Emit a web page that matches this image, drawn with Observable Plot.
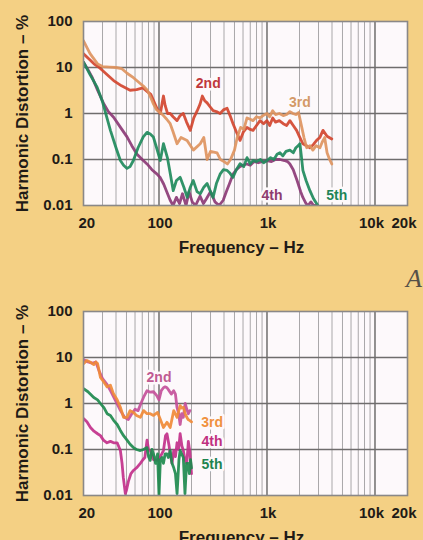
<!DOCTYPE html>
<html>
<head>
<meta charset="utf-8">
<script src="https://cdn.jsdelivr.net/npm/d3@7"></script>
<script src="https://cdn.jsdelivr.net/npm/@observablehq/plot@0.6"></script>
<style>
  html, body { margin: 0; padding: 0; }
  body { width: 423px; height: 540px; background: #f4d084; position: relative; overflow: hidden;
         font-family: "Liberation Sans", Arial, sans-serif; }
  #top { position: absolute; left: 0; top: 0; }
  #bottom { position: absolute; left: 0; top: 270px; }
  #fig { position: absolute; left: 406px; top: 266px; font-family: "Liberation Serif", "DejaVu Serif", serif;
         font-style: italic; font-size: 26px; line-height: 26px; color: #555049; }
</style>
</head>
<body>
<div id="top"></div>
<div id="bottom"></div>
<div id="fig">A</div>
<script>
// ---------- axis / tick data ----------
const xTickValues = [20, 100, 1000, 10000, 20000];
const xTickLabels = ["20", "100", "1k", "10k", "20k"];
const yTickValues = [0.01, 0.1, 1, 10, 100];
const yTickLabels = ["0.01", "0.1", "1", "10", "100"];
const xMajorGrid = [100, 1000, 10000];
const xMinorGrid = [30, 40, 50, 60, 70, 80, 90, 200, 300, 400, 500, 600, 700, 800, 900,
                    2000, 3000, 4000, 5000, 6000, 7000, 8000, 9000];
const yMajorGrid = [0.1, 1, 10];
const xTitle = "Frequency – Hz";
const yTitle = "Harmonic Distortion – %";
const harmonicNames = ["2nd", "3rd", "4th", "5th"];

// ---------- top panel series: [frequency Hz, distortion %] ----------
const top2nd = [[20,20],[22,16],[25,12],[28,10],[32,7.5],[38,5.2],[45,4],[54,3.2],[62,3.3],[71,3.6],[78,3],[84,2.6],[90,1.8],[97,1.2],[103,1],[107,1.7],[110,2.4],[114,1.5],[120,1],[127,1],[135,0.85],[147,0.7],[157,0.9],[168,1],[180,0.65],[195,0.43],[210,0.8],[226,1.15],[240,1.6],[252,2.4],[265,1.9],[279,1.7],[297,1.4],[317,1.15],[340,1.1],[368,1],[395,1.2],[427,1.3],[455,0.9],[485,0.6],[520,0.4],[563,0.26],[605,0.4],[653,0.5],[700,0.45],[743,0.43],[800,0.55],[862,0.7],[930,0.6],[1000,0.7],[1060,0.55],[1130,0.8],[1200,0.65],[1300,0.7],[1414,0.6],[1520,0.55],[1630,0.7],[1750,0.55],[1880,0.43],[2018,0.3],[2150,0.22],[2320,0.2],[2497,0.18],[2680,0.21],[2880,0.26],[3080,0.3],[3300,0.43],[3600,0.32],[3980,0.28]];
const top3rd = [[20,38],[23,20],[27,12],[30,10.5],[35,10.2],[40,10],[45,9.5],[51,7.4],[58,6],[67,4.5],[73,3.8],[78,3.2],[84,2.2],[89,1.6],[95,1.2],[103,1.05],[110,0.9],[118,0.75],[127,0.6],[135,0.4],[147,0.22],[160,0.3],[182,0.26],[208,0.16],[241,0.22],[260,0.3],[279,0.1],[300,0.15],[345,0.14],[370,0.1],[400,0.09],[430,0.08],[460,0.1],[500,0.16],[530,0.3],[570,0.5],[610,0.45],[653,0.8],[700,0.75],[743,0.7],[800,0.85],[860,0.8],[920,0.9],[1000,1],[1060,0.85],[1130,1.15],[1200,0.95],[1300,1],[1414,0.9],[1520,0.95],[1630,1.1],[1740,1],[1850,0.95],[1960,1.05],[2100,0.5],[2200,0.3],[2330,0.18],[2500,0.2],[2660,0.16],[2850,0.2],[3090,0.18],[3250,0.24],[3420,0.3],[3600,0.14],[3800,0.1],[3980,0.08]];
const top4th = [[20,13],[22,9],[24,6.2],[27,3.2],[30.8,1.63],[34,1.1],[38,0.83],[44,0.5],[50.6,0.31],[56,0.2],[62.6,0.13],[70,0.1],[77.5,0.08],[86,0.06],[96,0.048],[103,0.04],[110.7,0.029],[118,0.02],[127,0.013],[135,0.01],[145,0.015],[155,0.011],[165,0.018],[178,0.01],[190,0.02],[203,0.012],[218,0.01],[240,0.016],[258,0.011],[275,0.014],[300,0.02],[330,0.012],[360,0.01],[393,0.013],[420,0.02],[450,0.03],[485,0.048],[520,0.06],[560,0.07],[600,0.075],[650,0.08],[700,0.075],[760,0.09],[830,0.085],[900,0.09],[1000,0.095],[1100,0.09],[1200,0.1],[1318,0.1],[1450,0.095],[1550,0.09],[1630,0.08],[1750,0.06],[1900,0.035],[2050,0.02],[2150,0.015],[2300,0.011],[2400,0.01],[2550,0.012],[2700,0.01],[2850,0.01]];
const top5th = [[20,13],[23,7],[26.8,3.7],[30,1.8],[35.5,0.43],[40,0.18],[43.9,0.095],[47,0.075],[50.6,0.064],[54,0.07],[57.9,0.095],[64,0.18],[71.5,0.31],[77.5,0.39],[83,0.36],[88.6,0.31],[95,0.18],[102.8,0.095],[110,0.22],[119.6,0.11],[127,0.05],[135.5,0.021],[145,0.035],[157,0.041],[170,0.025],[182.5,0.015],[195,0.025],[207.5,0.035],[225,0.02],[241,0.018],[260,0.025],[279,0.03],[300,0.02],[317,0.015],[340,0.03],[368,0.048],[395,0.06],[427,0.058],[455,0.05],[485,0.041],[520,0.06],[563,0.081],[610,0.07],[653,0.11],[700,0.08],[743,0.095],[800,0.09],[870,0.1],[930,0.085],[1000,0.095],[1080,0.11],[1160,0.1],[1240,0.13],[1318,0.14],[1400,0.12],[1500,0.15],[1630,0.16],[1750,0.14],[1850,0.18],[1950,0.2],[2018,0.22],[2080,0.12],[2150,0.058],[2300,0.035],[2497,0.021],[2700,0.014],[2957,0.01]];

// ---------- bottom panel series ----------
const bot2nd = [[20,9],[22,8],[24,7.5],[26,8],[28,5],[30,3.5],[33,2.6],[36,1.8],[40,1.1],[44,0.7],[48,0.5],[52,0.45],[56,0.6],[60,0.75],[64,0.7],[68,1],[72,1.37],[77.5,1.9],[83,1.76],[89,1.8],[95,1.5],[100,1.2],[105,1.9],[110,2.2],[114,2.3],[118.6,2.2],[124,1.9],[130,1.6],[136.6,1.9],[142,1.6],[146.7,0.83],[152,0.6],[157,0.35],[162,0.6],[168,0.5],[175,1],[181,0.75],[187,0.6],[193,0.7]];
const bot3rd = [[20,7.3],[21.5,8.6],[23.2,7.9],[24.9,7],[26,8],[27,7.4],[28.7,3.7],[30.6,3],[33.1,2.3],[35.5,2.5],[38,1.6],[41,1.2],[43.9,0.83],[47,0.5],[50.6,0.5],[54,0.7],[58,0.64],[62,0.55],[67.2,0.5],[72,0.7],[77.5,0.6],[83,0.6],[89,0.55],[97,0.64],[103,0.45],[110,0.3],[118.6,0.39],[127,0.3],[137,0.7],[147,0.5],[157,0.9],[162,0.8],[168,0.83],[175,0.6],[181,0.5],[186,0.45],[192,0.43],[200,0.4]];
const bot4th = [[20,0.47],[21.5,0.4],[23.2,0.3],[25,0.25],[27,0.22],[28.7,0.2],[30.6,0.16],[33,0.14],[35.5,0.15],[38,0.14],[41,0.14],[43.9,0.095],[45.5,0.05],[46.7,0.025],[48,0.015],[48.8,0.011],[50,0.013],[52,0.02],[55,0.03],[58,0.035],[62,0.04],[67.2,0.05],[71,0.06],[74,0.067],[77.5,0.16],[80,0.1],[83,0.095],[89,0.06],[97,0.058],[103,0.07],[110,0.095],[115,0.2],[118.6,0.22],[124,0.12],[127,0.08],[132,0.05],[137,0.095],[142,0.07],[147,0.14],[152,0.1],[157,0.22],[163,0.12],[168,0.095],[174,0.06],[181,0.05],[187,0.15],[193,0.09],[200,0.03]];
const bot5th = [[20,2.1],[22,1.8],[24.9,1.35],[27,1.2],[28.7,1],[31,0.8],[33.1,0.6],[35.5,0.55],[38,0.43],[41,0.35],[43.9,0.26],[47,0.2],[50.6,0.16],[54,0.13],[58,0.11],[62,0.1],[67.2,0.095],[72,0.1],[77.5,0.11],[80,0.07],[83,0.058],[86,0.1],[89,0.08],[93,0.05],[97,0.08],[100,0.01],[103,0.06],[107,0.067],[110,0.05],[114,0.08],[118.6,0.08],[122,0.067],[127,0.095],[132,0.05],[137,0.04],[142,0.03],[147,0.011],[150,0.025],[153,0.06],[157,0.095],[162,0.08],[168,0.067],[174,0.011],[180,0.05],[186,0.05],[191,0.03],[196,0.06],[200,0.04]];

// ---------- label anchors [frequency, %] ----------
const topLabelPos = [[286, 4.5], [2018, 1.74], [1112, 0.0167], [4420, 0.0167]];
const botLabelPos = [[100, 3.7], [310, 0.39], [310, 0.15], [310, 0.047]];

const topColors = { line: ["#d3452f", "#de9460", "#8c3a76", "#1f8a5c"], label: ["#c0383c", "#d49a68", "#8e3c70", "#1f8558"] };
const botColors = { line: ["#c4509a", "#f08a38", "#c2308a", "#1e8a4e"], label: ["#c05a92", "#f0913e", "#c0307f", "#1e8450"] };

const INK = "#1f1b17";
const FONT = "'Liberation Sans', Arial, Helvetica, sans-serif";

function panel(series, labelPos, colors, mTop, mBottom) {
  const marks = [
    Plot.frame({fill: "#fdf9fb"}),
    Plot.ruleX(xMinorGrid, {stroke: "#a9a7a9", strokeWidth: 1}),
    Plot.ruleX(xMajorGrid, {stroke: "#6f6d6d", strokeWidth: 1.5}),
    Plot.ruleY(yMajorGrid, {stroke: "#6f6d6d", strokeWidth: 1.5}),
  ];
  series.forEach((s, i) => {
    marks.push(Plot.line(s, {x: d => d[0], y: d => d[1], stroke: colors.line[i], strokeWidth: 2.8,
      strokeOpacity: 0.92, strokeLinejoin: "round", clip: true}));
  });
  marks.push(Plot.frame({stroke: "#8a8888", strokeWidth: 1.6}));
  // harmonic labels
  labelPos.forEach((p, i) => {
    marks.push(Plot.text([p], {x: d => d[0], y: d => d[1], text: () => harmonicNames[i],
      fill: colors.label[i], stroke: "#fdf9fb", strokeWidth: 5, paintOrder: "stroke",
      fontWeight: "bold", fontSize: 14}));
  });
  // y tick labels
  marks.push(Plot.text(yTickValues, {y: d => d, text: (d, i) => yTickLabels[i], frameAnchor: "left",
    textAnchor: "end", dx: -11, fontWeight: "bold", fontSize: 15, fill: INK}));
  // x tick labels
  const xt = xTickValues.map((v, i) => ({v, t: xTickLabels[i], i}));
  const n = xt.length;
  const common = {x: "v", text: "t", frameAnchor: "bottom", lineAnchor: "bottom", dy: 22,
    fontWeight: "bold", fontSize: 15, fill: INK};
  marks.push(Plot.text(xt.filter(d => d.i === 0), {...common, textAnchor: "start", dx: -5}));
  marks.push(Plot.text(xt.filter(d => d.i > 0 && d.i < n - 2), {...common, textAnchor: "middle", dx: 1}));
  marks.push(Plot.text(xt.filter(d => d.i >= n - 2), {...common, textAnchor: "end", dx: 9}));
  // titles
  marks.push(Plot.text([xTitle], {text: d => d, frameAnchor: "bottom", lineAnchor: "bottom", textAnchor: "middle",
    dy: 47, dx: -4, fontWeight: "bold", fontSize: 17, fill: INK}));
  marks.push(Plot.text([yTitle], {text: d => d, frameAnchor: "left", textAnchor: "middle", lineAnchor: "middle",
    rotate: -90, dx: -61, fontWeight: "bold", fontSize: 17, fill: INK}));

  return Plot.plot({
    width: 423, height: 270,
    marginLeft: 83, marginRight: 16, marginTop: mTop, marginBottom: mBottom,
    x: {type: "log", domain: [20, 20000], axis: null},
    y: {type: "log", domain: [0.01, 100], axis: null},
    style: {background: "transparent", fontFamily: FONT, overflow: "visible"},
    marks
  });
}

document.getElementById("top").appendChild(panel([top2nd, top3rd, top4th, top5th], topLabelPos, topColors, 21, 65));
document.getElementById("bottom").appendChild(panel([bot2nd, bot3rd, bot4th, bot5th], botLabelPos, botColors, 41, 45));
</script>
</body>
</html>
